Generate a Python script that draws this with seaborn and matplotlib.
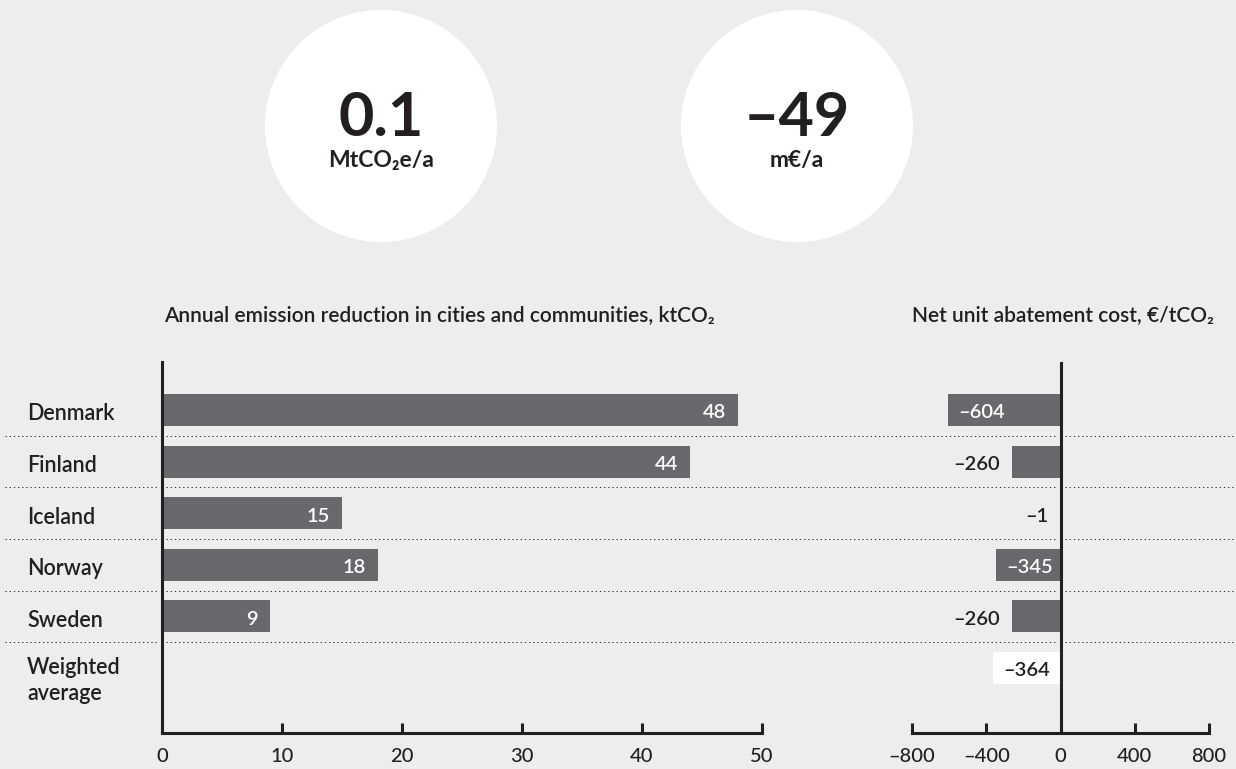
import matplotlib
matplotlib.use("Agg")
import matplotlib.pyplot as plt
from matplotlib.patches import Circle
from matplotlib.ticker import FuncFormatter
from matplotlib.transforms import blended_transform_factory
import seaborn as sns
import pandas as pd

# ---- data -------------------------------------------------------------
countries = ["Denmark", "Finland", "Iceland", "Norway", "Sweden"]
emission_kt = [48, 44, 15, 18, 9]

cost_regions = countries + ["Weighted average"]
cost_eur = [-604, -260, -1, -345, -260, -364]

total_reduction_mt = 0.1
total_cost_meur = -49

emission_ticks = [0, 10, 20, 30, 40, 50]
cost_ticks = [-800, -400, 0, 400, 800]

title_left = "Annual emission reduction in cities and communities, ktCO\u2082"
title_right = "Net unit abatement cost, \u20ac/tCO\u2082"
unit_left = "MtCO\u2082e/a"
unit_right = "m\u20ac/a"

# ---- style ------------------------------------------------------------
BG = "#ededed"
BAR = "#68696d"
INK = "#231f20"
W, H = 1236, 769

sns.set_theme(style="white")
plt.rcParams["font.family"] = ["Lato", "DejaVu Sans"]
plt.rcParams["text.color"] = INK

LABEL_SIZE = 15.5


def dash(v):
    s = f"{v:g}"
    return s.replace("-", "\u2013")


def fx(px):
    return px / W


def fy(py):
    return 1 - py / H


fig = plt.figure(figsize=(W / 100, H / 100), dpi=100, facecolor=BG)

# background layer in pixel units: circles, headline figures, separators
bg = fig.add_axes([0, 0, 1, 1], zorder=-1)
bg.set_xlim(0, W)
bg.set_ylim(H, 0)
bg.axis("off")

for cx, big, unit in [(381, total_reduction_mt, unit_left),
                      (797, total_cost_meur, unit_right)]:
    bg.add_patch(Circle((cx, 126), 116, facecolor="white", edgecolor="none"))
    bg.text(cx, 136, dash(big), ha="center", va="baseline",
            fontsize=44, fontweight="bold", color=INK)
    bg.text(cx, 167, unit, ha="center", va="baseline",
            fontsize=16.5, fontweight="bold", color=INK)

# chart axes
ax1 = fig.add_axes([fx(162), fy(733), 600 / W, 371 / H])
ax2 = fig.add_axes([fx(912), fy(733), 297 / W, 371 / H])
for ax in (ax1, ax2):
    ax.set_facecolor("none")

ylim = (6.26, -0.93)

# left: emission reduction
sns.barplot(x=emission_kt, y=countries, orient="h", color=BAR, width=0.62,
            linewidth=0, saturation=1, ax=ax1)

# right: unit abatement cost
df_cost = pd.DataFrame({"region": cost_regions, "cost": cost_eur})
sns.barplot(data=df_cost, x="cost", y="region", hue="region",
            palette=[BAR] * len(countries) + ["white"], orient="h",
            width=0.62, linewidth=0, saturation=1, legend=False, ax=ax2)

for ax in (ax1, ax2):
    ax.set_ylim(*ylim)
    ax.set_yticks([])
    ax.set_xlabel("")
    ax.set_ylabel("")
    ax.spines["top"].set_visible(False)
    ax.spines["right"].set_visible(False)
    ax.spines["bottom"].set_linewidth(2.2)
    ax.spines["bottom"].set_color(INK)
    ax.tick_params(axis="x", bottom=True, direction="in", length=7.2,
                   width=2.2, color=INK, labelsize=14.5, labelcolor=INK,
                   pad=11)
    ax.xaxis.set_major_formatter(FuncFormatter(lambda v, p: dash(v)))

ax1.set_xlim(0, 50)
ax1.set_xticks(emission_ticks)
ax1.spines["left"].set_linewidth(2.2)
ax1.spines["left"].set_color(INK)

ax2.set_xlim(-800, 800)
ax2.set_xticks(cost_ticks)
ax2.spines["left"].set_visible(False)
ax2.axvline(0, color=INK, lw=2.2)

for ax in (ax1, ax2):
    for lbl in ax.get_xticklabels():
        lbl.set_fontweight("medium")

# dotted row separators across the full width, broken at the two axis lines
px_axis = ax1.transAxes.transform((0, 0))[0]
px_zero = ax2.transData.transform((0, 0))[0]
gap = 4
segments = [(5, px_axis - gap), (px_axis + gap, px_zero - gap),
            (px_zero + gap, W)]
sep_tr = blended_transform_factory(fig.transFigure, ax1.transData)
for b in [i + 0.5 for i in range(len(countries))]:
    for x0, x1 in segments:
        bg.plot([fx(x0), fx(x1)], [b, b], transform=sep_tr, color="#3a3a3a",
                lw=0.75, ls=(0, (1.3, 2.7)), clip_on=False)

# row labels
ytr = ax1.get_yaxis_transform()
for i, name in enumerate(countries):
    ax1.text(-0.225, i + 0.2, name, transform=ytr, ha="left", va="baseline",
             fontsize=LABEL_SIZE, fontweight="semibold", color=INK)
ax1.text(-0.225, len(countries) + 0.116, "Weighted", transform=ytr,
         ha="left", va="baseline", fontsize=LABEL_SIZE, fontweight="semibold")
ax1.text(-0.225, len(countries) + 0.62, "average", transform=ytr,
         ha="left", va="baseline", fontsize=LABEL_SIZE, fontweight="semibold")

# value labels
k = 0.72  # px -> pt
for i, v in enumerate(emission_kt):
    ax1.annotate(dash(v), xy=(v, i), xytext=(-12 * k, -8.5 * k),
                 textcoords="offset points", ha="right", va="baseline",
                 color="white", fontsize=14.5, fontweight="semibold")

for i, v in enumerate(cost_eur):
    if abs(v) > 300:
        col = INK if cost_regions[i] == "Weighted average" else "white"
        ax2.annotate(dash(v), xy=(v, i), xytext=(10 * k, -8.5 * k),
                     textcoords="offset points", ha="left", va="baseline",
                     color=col, fontsize=14.5, fontweight="semibold")
    else:
        ax2.annotate(dash(v), xy=(v, i), xytext=(-12 * k, -8.5 * k),
                     textcoords="offset points", ha="right", va="baseline",
                     color=INK, fontsize=14.5, fontweight="semibold")

# chart titles
fig.text(fx(164), fy(321), title_left, ha="left", va="baseline",
         fontsize=15, fontweight="semibold", color=INK)
fig.text(fx(1214), fy(321), title_right, ha="right", va="baseline",
         fontsize=15, fontweight="semibold", color=INK)

fig.savefig("out.png", dpi=100, facecolor=BG)
